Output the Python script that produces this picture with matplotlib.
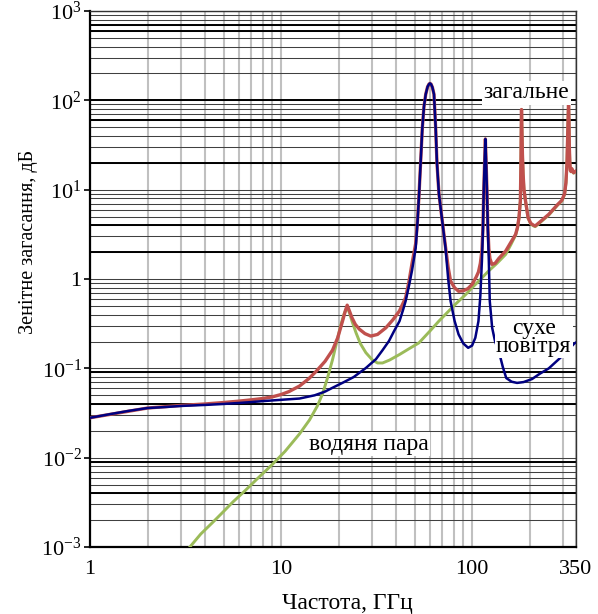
import math
import matplotlib
matplotlib.use("Agg")
import matplotlib.pyplot as plt
from matplotlib.ticker import LogLocator, FixedLocator, FuncFormatter, NullFormatter

plt.rcParams['font.family'] = ['Liberation Serif', 'DejaVu Serif']
plt.rcParams['mathtext.fontset'] = 'custom'
plt.rcParams['mathtext.rm'] = 'Liberation Serif'

# сухе повітря: частота, ГГц / загасання, дБ
f_dry = [1, 1.3, 1.6, 2, 2.5, 3, 4, 5, 6, 7, 8, 10, 12.5, 15, 17, 18.6, 21, 24, 27.8,
         31.4, 34, 36.7, 39, 41.7, 43.5, 44.9, 46.8, 48.5, 50.7, 51.8, 52.8, 53.9, 54.9,
         56, 57.2, 58.5, 59.5, 60.2, 61, 62, 63.2, 64.5, 65.5, 67.1, 69.8, 72.6, 75, 77.2,
         81, 85, 90, 95.4, 100, 104, 108, 110.5, 112.6, 114, 115, 116.3, 117.4, 118.5,
         119.8, 121, 122.4, 123.8, 127.4, 132, 138, 145, 151, 161, 172, 186, 206, 226,
         252, 296, 343, 350]
a_dry = [0.028, 0.031, 0.0335, 0.036, 0.037, 0.038, 0.039, 0.040, 0.041, 0.042, 0.043,
         0.0445, 0.046, 0.050, 0.055, 0.0607, 0.069, 0.080, 0.101, 0.127, 0.16, 0.202,
         0.26, 0.338, 0.45, 0.567, 0.85, 1.25, 2.24, 4.3, 8.9, 22, 49, 85, 117, 142, 152,
         155, 152, 140, 117, 49, 20, 8.9, 4.47, 2.24, 1.0, 0.567, 0.34, 0.24, 0.19, 0.17,
         0.18, 0.22, 0.338, 0.65, 1.59, 3.5, 8.9, 20, 37, 20, 8.9, 3.5, 1.59, 0.567,
         0.285, 0.2, 0.156, 0.103, 0.078, 0.071, 0.0688, 0.0703, 0.076, 0.087, 0.10,
         0.137, 0.19, 0.195]

# загальне
f_total = [1, 2, 3, 4, 5, 6, 7, 8, 9, 10, 11, 12.5, 14, 15.3, 17, 18.6, 19.8, 21, 21.7,
           22.2, 22.8, 23.5, 24.5, 25.7, 27.5, 29.5, 32, 35.4, 38.5, 41.7, 44.9, 46.8,
           48.5, 50.7, 51.8, 52.8, 53.9, 54.9, 56, 57.2, 58.5, 59.5, 60.2, 61, 62, 63.2,
           64.5, 65.5, 67.1, 69.8, 72.6, 75, 77.2, 81, 85, 90, 95, 100, 105, 108, 110.5,
           112.6, 114, 115, 116.3, 117.4, 118.5, 119.8, 121, 122.4, 124, 127, 132, 138,
           150, 160, 169, 173, 176, 179, 180.3, 181, 181.5, 182.3, 183.5, 185, 187, 190.5,
           196.5, 203, 210, 214, 225, 252, 280, 295, 305, 310, 314, 317, 319, 320, 321.5,
           323, 325, 327, 330, 333, 336, 340, 345, 350]
a_total = [0.028, 0.036, 0.0385, 0.040, 0.0415, 0.043, 0.0445, 0.046, 0.048, 0.051, 0.055,
           0.0635, 0.077, 0.093, 0.12, 0.16, 0.22, 0.34, 0.44, 0.51, 0.44, 0.37, 0.31,
           0.275, 0.245, 0.23, 0.24, 0.285, 0.35, 0.44, 0.62, 0.95, 1.5, 2.5, 4.5, 9, 22,
           49, 85, 117, 142, 152, 155, 152, 140, 117, 49, 20, 9, 4.5, 2.3, 1.35, 0.95, 0.8,
           0.73, 0.74, 0.78, 0.87, 1.05, 1.2, 1.5, 2.1, 3.8, 9, 20, 37, 20, 9, 3.8, 2.2,
           1.7, 1.46, 1.5, 1.7, 2.06, 2.6, 3.16, 3.8, 4.86, 7.5, 20, 50, 79, 50, 25, 15,
           10, 7.5, 4.86, 4.2, 4.0, 3.93, 4.3, 5.3, 6.8, 7.6, 9, 12, 20, 45, 75, 96, 60,
           30, 20, 16.5, 16, 17.2, 16.5, 15.5, 15.8, 16.2]

# водяна пара
f_vapour = [3.0, 3.33, 3.8, 4.4, 5, 5.6, 6.5, 7.5, 9, 10.5, 12.5, 14.1, 15.5, 16.5, 17.5,
            18.6, 19.6, 20.5, 21.4, 22.2, 22.8, 23.5, 24.7, 26, 27.8, 30, 32, 34, 37,
            41.7, 47, 52.7, 60, 67.1, 74, 81.6, 92.5, 100, 108.5, 122, 135, 150, 160, 169,
            173, 176, 179, 180.3, 181, 181.5, 182.3, 183.5, 185, 187, 190.5, 196.5, 203,
            210, 214, 225, 252, 280, 295, 305, 310, 314, 317, 319, 320, 321.5, 323, 325,
            327, 330, 333, 336, 340, 345, 350]
a_vapour = [0.00075, 0.001, 0.0014, 0.0019, 0.0025, 0.0032, 0.0043, 0.0058, 0.0084, 0.0118,
            0.0185, 0.0265, 0.038, 0.052, 0.078, 0.125, 0.2, 0.3, 0.41, 0.48, 0.42, 0.34,
            0.25, 0.19, 0.15, 0.125, 0.115, 0.115, 0.124, 0.143, 0.167, 0.193, 0.26,
            0.339, 0.42, 0.52, 0.67, 0.8, 0.95, 1.23, 1.5, 1.89, 2.45, 3.1, 3.75, 4.8,
            7.4, 19.8, 49.8, 78.8, 49.8, 24.8, 14.8, 9.9, 7.4, 4.79, 4.13, 3.93, 3.86,
            4.22, 5.2, 6.7, 7.47, 8.87, 11.87, 19.9, 44.9, 74.9, 95.9, 59.9, 29.9, 19.9,
            16.4, 15.85, 17.05, 16.35, 15.35, 15.65, 16.0]

y_ticks = [1e-3, 1e-2, 1e-1, 1, 10, 100, 1000]
x_ticks = [1, 10, 100, 350]
x_ticklabels = ['1', '10', '100', '350']
# горизонтальні лінії сітки, що на оригіналі виглядають темнішими
dark_lines = [1000, 700, 600, 100, 60, 20, 4, 2, 0.09, 0.04, 0.009, 0.004]

fig = plt.figure(figsize=(5.98, 6.14), dpi=100)
ax = fig.add_axes([0.1505, 0.109, 0.8127, 0.873])

ax.plot(f_vapour, a_vapour, color='#9BBB59', lw=2.1, zorder=3)
ax.plot(f_total, a_total, color='#C0504D', lw=2.4, zorder=4)
ax.plot(f_dry, a_dry, color='#000080', lw=1.8, zorder=5)

ax.set_xscale('log')
ax.set_yscale('log')
ax.set_xlim(1, 350)
ax.set_ylim(1e-3, 1e3)

ax.xaxis.set_major_locator(FixedLocator(x_ticks))
ax.xaxis.set_major_formatter(FuncFormatter(
    lambda v, p: x_ticklabels[x_ticks.index(round(v))] if round(v) in x_ticks else ''))
ax.xaxis.set_minor_locator(LogLocator(base=10, subs=range(2, 10), numticks=20))
ax.xaxis.set_minor_formatter(NullFormatter())


def yfmt(v, pos):
    if abs(v - 1) < 1e-9:
        return '1'
    return r'$\mathregular{10^{%d}}$' % int(round(math.log10(v)))


ax.yaxis.set_major_locator(FixedLocator(y_ticks))
ax.yaxis.set_major_formatter(FuncFormatter(yfmt))
ax.yaxis.set_minor_locator(LogLocator(base=10, subs=range(2, 10), numticks=20))
ax.yaxis.set_minor_formatter(NullFormatter())

ax.tick_params(axis='x', which='both', length=0, pad=9, labelsize=16)
ax.tick_params(axis='y', which='major', length=4, width=1.2, direction='out', labelsize=16, pad=2)
ax.tick_params(axis='y', which='minor', length=0)

ax.xaxis.grid(True, which='both', color='#c0c0c0', lw=1.5, zorder=0)
ax.yaxis.grid(True, which='both', color='#404040', lw=0.75, zorder=0)
for v in dark_lines:
    ax.axhline(v, color='black', lw=1.4, zorder=1)
ax.set_axisbelow(True)

for s in ax.spines.values():
    s.set_color('#333333')
    s.set_linewidth(1.0)
ax.spines['left'].set_color('black')
ax.spines['bottom'].set_color('black')
ax.spines['left'].set_linewidth(1.6)
ax.spines['bottom'].set_linewidth(1.6)

ax.set_xlabel('Частота, ГГц', fontsize=17)
ax.xaxis.set_label_coords(0.53, -0.085)
ax.set_ylabel('Зенітне загасання, дБ', fontsize=14.5)
ax.yaxis.set_label_coords(-0.108, 0.57)

box = dict(facecolor='white', edgecolor='none', pad=1.0)
ax.text(193, 121, 'загальне', fontsize=17, ha='center', va='center', bbox=box, zorder=6)
ax.text(28.9, 0.0142, 'водяня пара', fontsize=17, ha='center', va='center', bbox=box, zorder=6)
ax.text(210, 0.224, 'сухе\nповітря', fontsize=17, ha='center', va='center', bbox=box,
        zorder=6, linespacing=0.8)

fig.savefig('out.png', dpi=100)
